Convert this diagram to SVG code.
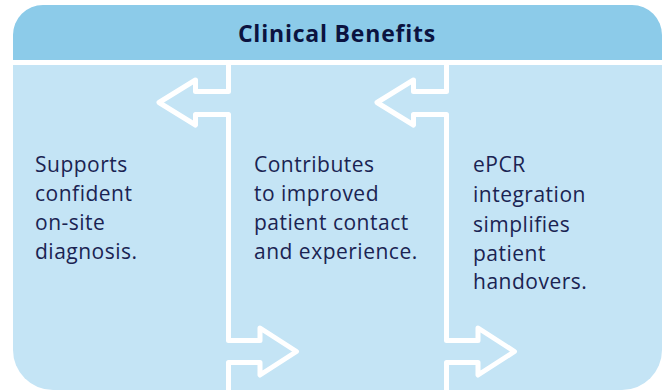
<svg xmlns="http://www.w3.org/2000/svg" width="670" height="392" viewBox="0 0 670 392">
<style>
.hdr{fill:#8ccbe9}
.body{fill:#c4e4f5}
.title{font-family:"Open Sans","Liberation Sans",sans-serif;font-weight:700;font-size:23px;letter-spacing:0.8px;fill:#0b1340}
.txt{font-family:"Open Sans","Liberation Sans",sans-serif;font-size:21px;letter-spacing:0.5px;fill:#1a2352}
.conn{fill:none;stroke:#ffffff;stroke-width:5;stroke-linejoin:round}
</style>
<rect width="670" height="392" fill="#ffffff"/>
<g id="header">
<path class="hdr" d="M13,60 V35 A30,30 0 0 1 43,5 H632 A30,30 0 0 1 662,35 V60 Z"/>
<text class="title" x="337" y="42" text-anchor="middle">Clinical Benefits</text>
</g>
<g id="panel">
<path class="body" d="M13,65 H662 V350 A40,40 0 0 1 622,390 H53 A40,40 0 0 1 13,350 Z"/>
</g>
<g id="connectors">
<path id="arrows1" class="conn" d="M228.5,63 V91.5 H195.5 V80 L159,102.5 L195.5,125 V114.5 H228.5 V340.5 H260 V328 L296.5,351.5 L260,375 V362.5 H228.5 V392"/>
<path id="arrows2" class="conn" transform="translate(218,0)" d="M228.5,63 V91.5 H195.5 V80 L159,102.5 L195.5,125 V114.5 H228.5 V340.5 H260 V328 L296.5,351.5 L260,375 V362.5 H228.5 V392"/>
</g>
<g id="col1">
<text class="txt" x="35"><tspan x="35" y="172">Supports</tspan><tspan x="35" y="201">confident</tspan><tspan x="35" y="230">on-site</tspan><tspan x="35" y="259">diagnosis.</tspan></text>
</g>
<g id="col2">
<text class="txt" x="254"><tspan x="254" y="172">Contributes</tspan><tspan x="254" y="201">to improved</tspan><tspan x="254" y="230">patient contact</tspan><tspan x="254" y="259">and experience.</tspan></text>
</g>
<g id="col3">
<text class="txt" x="473"><tspan x="473" y="172">ePCR</tspan><tspan x="473" y="202">integration</tspan><tspan x="473" y="232">simplifies</tspan><tspan x="473" y="261">patient</tspan><tspan x="473" y="289">handovers.</tspan></text>
</g>
</svg>
